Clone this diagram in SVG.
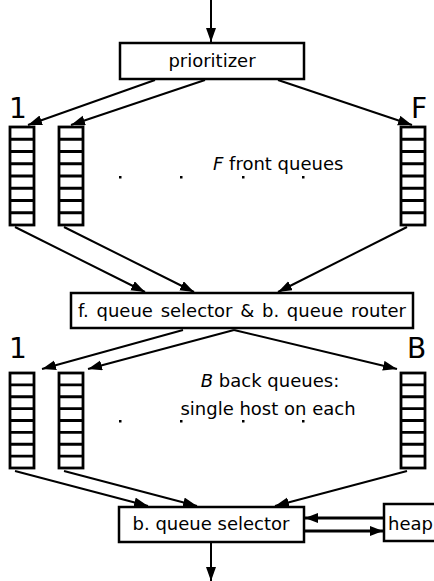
<svg xmlns="http://www.w3.org/2000/svg" xmlns:xlink="http://www.w3.org/1999/xlink" width="434" height="581" viewBox="0 0 434 581">
<style>
.box{fill:#fff;stroke:#000;stroke-width:2.5}
.q{fill:#fff;stroke:#000;stroke-width:2.8}
.c{stroke:#000;stroke-width:2;fill:none;marker-end:url(#ah)}
.h{stroke:#000;stroke-width:3;fill:none;marker-end:url(#ah2)}
.t{font-family:"DejaVu Sans",sans-serif;font-size:18px;fill:#000}
.big{font-family:"DejaVu Sans",sans-serif;font-size:28px;fill:#000}
.dot{fill:#000}
</style>
<defs>
<marker id="ah" markerUnits="userSpaceOnUse" markerWidth="15" markerHeight="11" refX="14" refY="5" orient="auto">
<path d="M0,0 L14,5 L0,10 Z" fill="#000"/>
</marker>
<marker id="ah2" markerUnits="userSpaceOnUse" markerWidth="15" markerHeight="11" refX="13" refY="5" orient="auto">
<path d="M0,0 L13,5 L0,10 Z" fill="#000"/>
</marker>
<g id="fq">
<rect class="q" x="0" y="0" width="24" height="98"/>
<path d="M0,12.25H24M0,24.5H24M0,36.75H24M0,49H24M0,61.25H24M0,73.5H24M0,85.75H24" stroke="#000" stroke-width="2.8"/>
</g>
<g id="bq">
<rect class="q" x="0" y="0" width="24" height="95"/>
<path d="M0,11.9H24M0,23.75H24M0,35.6H24M0,47.5H24M0,59.4H24M0,71.25H24M0,83.1H24" stroke="#000" stroke-width="2.8"/>
</g>
</defs>
<g id="connectors">
<line class="c" x1="211" y1="0" x2="211" y2="42"/>
<line class="c" x1="155" y1="80" x2="28" y2="125"/>
<line class="c" x1="205" y1="80" x2="71" y2="125"/>
<line class="c" x1="278" y1="80" x2="412" y2="125"/>
<line class="c" x1="15" y1="227" x2="145" y2="292"/>
<line class="c" x1="64" y1="227" x2="194" y2="292"/>
<line class="c" x1="407" y1="227" x2="278" y2="292"/>
<line class="c" x1="183" y1="330" x2="42" y2="369"/>
<line class="c" x1="234" y1="330" x2="88" y2="369"/>
<line class="c" x1="234" y1="330" x2="397" y2="369"/>
<line class="c" x1="15" y1="471" x2="148" y2="506"/>
<line class="c" x1="64" y1="471" x2="197" y2="506"/>
<line class="c" x1="407" y1="471" x2="275" y2="506"/>
<line class="h" x1="383" y1="518" x2="305" y2="518"/>
<line class="h" x1="305" y1="531" x2="383" y2="531"/>
<line class="c" x1="211" y1="543" x2="211" y2="581"/>
</g>
<g id="prioritizer">
<rect class="box" x="120" y="43" width="184" height="36"/>
<text class="t" x="212" y="67" text-anchor="middle">prioritizer</text>
</g>
<g id="front-queues">
<text class="big" x="9" y="118">1</text>
<text class="big" x="411" y="118">F</text>
<use xlink:href="#fq" x="10" y="127"/>
<use xlink:href="#fq" x="59" y="127"/>
<use xlink:href="#fq" x="401" y="127"/>
<rect class="dot" x="119" y="176" width="2.5" height="2.5"/>
<rect class="dot" x="180" y="176" width="2.5" height="2.5"/>
<rect class="dot" x="242" y="176" width="2.5" height="2.5"/>
<rect class="dot" x="302" y="176" width="2.5" height="2.5"/>
<text class="t" x="213" y="170"><tspan font-style="italic">F</tspan> front queues</text>
</g>
<g id="selector-router">
<rect class="box" x="71" y="293" width="342" height="35"/>
<text class="t" x="242" y="317" text-anchor="middle" word-spacing="2">f. queue selector &amp; b. queue router</text>
</g>
<g id="back-queues">
<text class="big" x="9" y="358">1</text>
<text class="big" x="407" y="358">B</text>
<use xlink:href="#bq" x="10" y="373"/>
<use xlink:href="#bq" x="59" y="373"/>
<use xlink:href="#bq" x="401" y="373"/>
<rect class="dot" x="119" y="420" width="2.5" height="2.5"/>
<rect class="dot" x="180" y="420" width="2.5" height="2.5"/>
<rect class="dot" x="242" y="420" width="2.5" height="2.5"/>
<rect class="dot" x="302" y="420" width="2.5" height="2.5"/>
<text class="t" x="270" y="387" text-anchor="middle"><tspan font-style="italic">B</tspan> back queues:</text>
<text class="t" x="268" y="415" text-anchor="middle">single host on each</text>
</g>
<g id="back-selector">
<rect class="box" x="119" y="507" width="185" height="35"/>
<text class="t" x="211" y="530" text-anchor="middle">b. queue selector</text>
</g>
<g id="heap">
<rect class="box" x="384" y="504" width="52" height="37" stroke-width="3.5"/>
<text class="t" x="388" y="530">heap</text>
</g>
</svg>
